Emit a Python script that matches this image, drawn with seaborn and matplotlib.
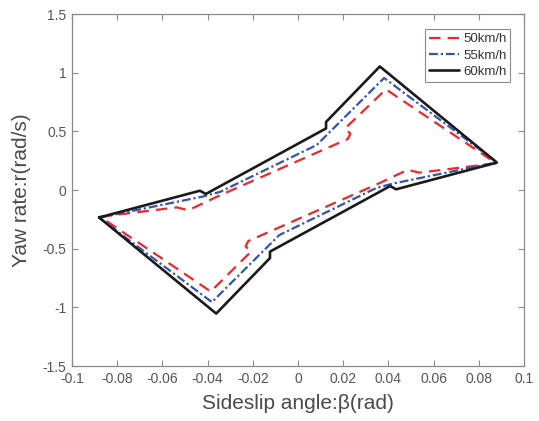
import matplotlib
matplotlib.use("Agg")
import matplotlib.pyplot as plt
import seaborn as sns
import pandas as pd

# Phase-plane stability envelopes (sideslip angle vs yaw rate) per speed
beta_50 = [-0.0875, -0.0537, -0.0485, -0.0345, 0.0220, 0.0232, 0.0208, 0.0389, 0.0877,
           0.0537, 0.0485, 0.0345, -0.0220, -0.0232, -0.0208, -0.0386, -0.0875]
r_50 = [-0.228, -0.148, -0.172, -0.045, 0.435, 0.480, 0.525, 0.858, 0.228,
        0.148, 0.172, 0.045, -0.435, -0.480, -0.525, -0.865, -0.228]

beta_55 = [-0.0880, -0.0420, -0.0345, 0.0083, 0.0381, 0.0880,
           0.0420, 0.0345, -0.0083, -0.0381, -0.0880]
r_55 = [-0.236, -0.055, -0.016, 0.384, 0.955, 0.236,
        0.055, 0.016, -0.384, -0.955, -0.236]

beta_60 = [-0.0880, -0.0434, -0.0408, 0.0124, 0.0124, 0.0362, 0.0880,
           0.0434, 0.0408, -0.0124, -0.0124, -0.0362, -0.0880]
r_60 = [-0.234, -0.006, -0.034, 0.525, 0.580, 1.053, 0.234,
        0.006, 0.034, -0.525, -0.580, -1.053, -0.234]

speed_labels = ["50km/h", "55km/h", "60km/h"]
x_ticks = [-0.1, -0.08, -0.06, -0.04, -0.02, 0, 0.02, 0.04, 0.06, 0.08, 0.1]
x_tick_labels = ["-0.1", "-0.08", "-0.06", "-0.04", "-0.02", "0", "0.02", "0.04", "0.06", "0.08", "0.1"]
y_ticks = [-1.5, -1, -0.5, 0, 0.5, 1, 1.5]
y_tick_labels = ["-1.5", "-1", "-0.5", "0", "0.5", "1", "1.5"]

sns.set_style("white")
plt.rcParams["font.family"] = ["Liberation Sans", "DejaVu Sans"]

frames = []
for lab, bx, ry in zip(speed_labels, [beta_50, beta_55, beta_60], [r_50, r_55, r_60]):
    frames.append(pd.DataFrame({"beta": bx, "r": ry, "speed": lab, "order": range(len(bx))}))
data = pd.concat(frames, ignore_index=True)

styles = {
    "50km/h": dict(color="#F0262B", lw=1.6, dashes=(5.2, 3.2)),
    "55km/h": dict(color="#3455AE", lw=1.6, dashes=(4, 1.3, 1, 1.3)),
    "60km/h": dict(color="#1A1A1A", lw=1.9, dashes=()),
}

fig = plt.figure(figsize=(5.39, 4.21), dpi=100)
ax = fig.add_axes([0.1336, 0.1306, 0.8386, 0.8361])

for lab in speed_labels:
    st = styles[lab]
    sub = data[data["speed"] == lab]
    line_ax = sns.lineplot(data=sub, x="beta", y="r", sort=False, estimator=None,
                           color=st["color"], linewidth=st["lw"], ax=ax, label=lab)
    ln = line_ax.get_lines()[-1]
    if st["dashes"]:
        ln.set_dashes(st["dashes"])

ax.set_xlim(-0.1, 0.1)
ax.set_ylim(-1.5, 1.5)
ax.set_xticks(x_ticks)
ax.set_xticklabels(x_tick_labels)
ax.set_yticks(y_ticks)
ax.set_yticklabels(y_tick_labels)

tick_color = "#555555"
ax.tick_params(direction="in", length=4, width=0.8, colors="#8A8A8A",
               labelcolor=tick_color, labelsize=10, top=True, right=True,
               bottom=True, left=True, pad=4)
for sp in ax.spines.values():
    sp.set_color("#8A8A8A")
    sp.set_linewidth(0.9)

ax.set_xlabel("Sideslip angle:β(rad)", fontsize=15, color="#4A4A4A", labelpad=6)
ax.set_ylabel("Yaw rate:r(rad/s)", fontsize=15, color="#4A4A4A", labelpad=8)

leg = ax.legend(loc="upper right", bbox_to_anchor=(0.97, 0.957), fontsize=9.5,
                frameon=True, fancybox=False, framealpha=1, edgecolor="#8A8A8A",
                handlelength=2.3, handletextpad=0.3, borderpad=0.3,
                labelspacing=0.3, borderaxespad=0)
leg.get_frame().set_linewidth(0.8)
for t in leg.get_texts():
    t.set_color("#333333")

fig.savefig("out.png", dpi=100)
